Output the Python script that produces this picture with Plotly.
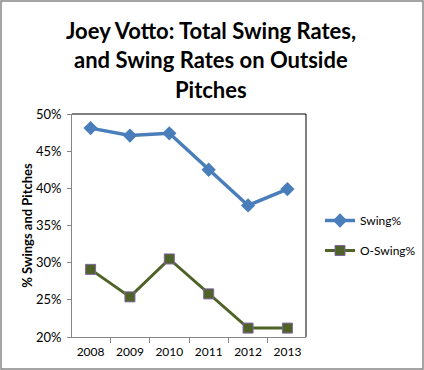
import plotly.graph_objects as go

years = ["2008", "2009", "2010", "2011", "2012", "2013"]
swing = [48.1, 47.1, 47.4, 42.5, 37.7, 39.9]
o_swing = [29.1, 25.4, 30.5, 25.8, 21.2, 21.2]
y_ticks = [20, 25, 30, 35, 40, 45, 50]
y_tick_text = [f"{v}%" for v in y_ticks]
title_lines = ["Joey Votto: Total Swing Rates,", "and Swing Rates on Outside", "Pitches"]

W, H = 424, 370
L, R, T, B = 72, 118, 114, 33
pw, ph = W - L - R, H - T - B


def py(pix):
    """pixel y from top -> paper y"""
    return (H - B - pix) / ph


def px(pix):
    return (pix - L) / pw


fig = go.Figure()
fig.add_trace(go.Scatter(
    x=years, y=swing, name="Swing%", mode="lines+markers",
    line=dict(color="#4A7EBB", width=3.5),
    marker=dict(symbol="diamond", size=11, color="#4A7EBB"),
    legendgroup="a",
))
fig.add_trace(go.Scatter(
    x=years, y=o_swing, name="O-Swing%", mode="lines+markers",
    line=dict(color="#4F6228", width=3),
    marker=dict(symbol="square", size=10, color="#4F6228",
                line=dict(color="#8064A2", width=1)),
    legendgroup="b",
))

font = "Lato, Calibri, 'Open Sans', sans-serif"
title_y = [30.5, 60, 89.5]
annotations = [
    dict(text=f"<b>{t}</b>", xref="paper", yref="paper", x=px(W / 2 - 1), y=py(yy),
         xanchor="center", yanchor="middle", showarrow=False,
         font=dict(family=font, size=22, color="#000000"))
    for t, yy in zip(title_lines, title_y)
]

fig.update_layout(
    width=W, height=H,
    margin=dict(l=L, r=R, t=T, b=B, autoexpand=False),
    paper_bgcolor="white", plot_bgcolor="white",
    font=dict(family=font, size=12, color="#000000"),
    annotations=annotations,
    xaxis=dict(
        type="category", tickson="boundaries", ticks="outside", ticklen=5,
        tickcolor="#868686", showline=True, linecolor="#868686", linewidth=1,
        showgrid=False, zeroline=False, tickfont=dict(size=12),
        ticklabelstandoff=4,
    ),
    yaxis=dict(
        range=[20, 50], tickvals=y_ticks, ticktext=y_tick_text,
        ticks="outside", ticklen=4, tickcolor="#868686",
        showline=True, linecolor="#868686", linewidth=1,
        showgrid=False, zeroline=False, tickfont=dict(size=13),
        ticklabelstandoff=3,
        title=dict(text="<b>% Swings and Pitches</b>", font=dict(size=13), standoff=0),
    ),
    legend=dict(
        x=px(320), xanchor="left", y=py(206), yanchor="top",
        font=dict(size=12), tracegroupgap=11, traceorder="grouped",
        bgcolor="rgba(0,0,0,0)", itemwidth=30,
    ),
    shapes=[
        dict(type="line", xref="paper", yref="paper", x0=0, x1=1, y0=1, y1=1,
             line=dict(color="black", width=1)),
        dict(type="line", xref="paper", yref="paper", x0=1, x1=1, y0=0, y1=1,
             line=dict(color="black", width=1)),
        dict(type="rect", xref="paper", yref="paper",
             x0=px(1), x1=px(W - 1), y0=py(H - 1), y1=py(1),
             line=dict(color="#868686", width=1.5)),
    ],
)

fig.write_html(
    "out.html",
    config={"displayModeBar": False},
    post_script="document.body.style.margin='0';",
)
